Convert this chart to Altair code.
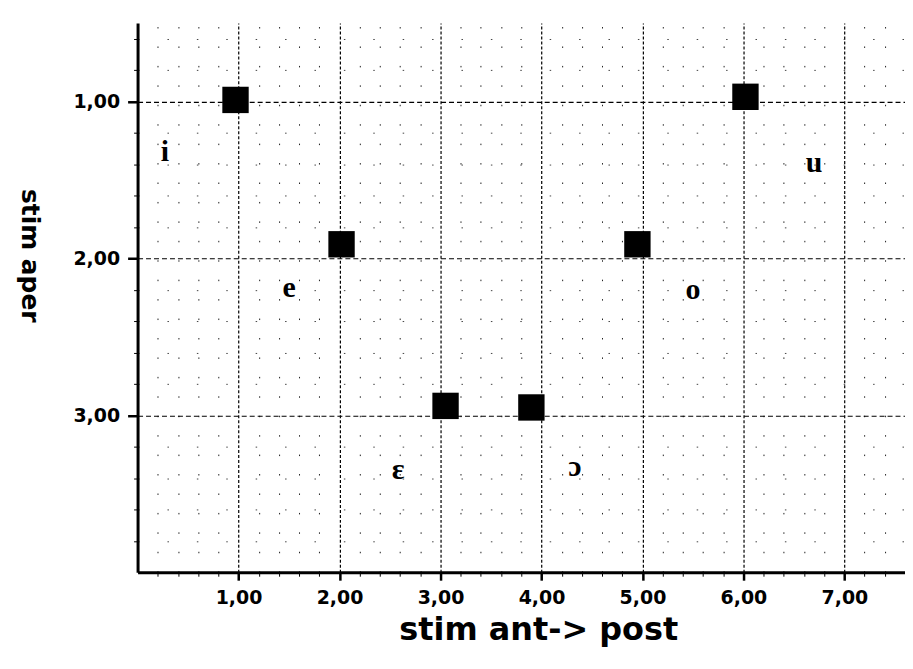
import altair as alt
import pandas as pd

# measured points (squares)
stim_x = [0.97, 2.02, 3.05, 3.90, 4.95, 6.02]
stim_y = [0.99, 1.91, 2.94, 2.95, 1.91, 0.97]
# vowel labels
vowels = ["i", "e", "ɛ", "ɔ", "o", "u"]
label_x = [0.27, 1.50, 2.58, 4.33, 5.50, 6.70]
label_y = [1.32, 2.19, 3.35, 3.33, 2.20, 1.39]
# axis ticks
major_x = [1, 2, 3, 4, 5, 6, 7]
major_y = [1, 2, 3]
minor_x = [round(i * 0.2, 1) for i in range(1, 38) if i % 5 != 0]
minor_y = [round(0.6 + i * 0.2, 1) for i in range(0, 17) if (i + 3) % 5 != 0]

pts = pd.DataFrame({"x": stim_x, "y": stim_y})
lbl = pd.DataFrame({"x": label_x, "y": label_y, "v": vowels})

xs = alt.Scale(domain=[0, 7.6], nice=False, zero=False)
ys = alt.Scale(domain=[0.5, 4.0], nice=False, zero=False, reverse=True)
lab = "replace(format(datum.value, '.2f'), '.', ',')"

minor = alt.Chart(pts).mark_point(opacity=0).encode(
    x=alt.X("x:Q", scale=xs, title=None,
            axis=alt.Axis(orient="bottom", values=minor_x, labels=False, domain=False,
                          grid=True, gridDash=[1.5, 18], gridColor="#222", gridWidth=1,
                          tickSize=4, tickColor="#000", tickWidth=1)),
    y=alt.Y("y:Q", scale=ys, title=None,
            axis=alt.Axis(orient="left", values=minor_y, labels=False, domain=False,
                          grid=True, gridDash=[1.5, 28], gridColor="#444", gridWidth=1,
                          tickSize=4, tickColor="#000", tickWidth=1)),
)

main = alt.Chart(pts).mark_square(size=700, color="black", opacity=1).encode(
    x=alt.X("x:Q", scale=xs, title="stim ant-> post",
            axis=alt.Axis(orient="bottom", values=major_x, labelExpr=lab,
                          grid=True, gridDash=[3, 2], gridColor="#000", gridWidth=1.2,
                          domainColor="#000", domainWidth=3, tickColor="#000",
                          tickWidth=2.5, tickSize=8, labelPadding=8,
                          labelFont="DejaVu Sans", labelFontWeight="bold",
                          labelFontSize=19, labelColor="#000",
                          titleFont="DejaVu Sans", titleFontWeight="bold",
                          titleFontSize=32, titleColor="#000",
                          titleX=402, titleY=58, titleBaseline="middle")),
    y=alt.Y("y:Q", scale=ys, title="stim aper",
            axis=alt.Axis(orient="left", values=major_y, labelExpr=lab,
                          grid=True, gridDash=[5, 3], gridColor="#000", gridWidth=1.2,
                          domainColor="#000", domainWidth=3, tickColor="#000",
                          tickWidth=2.5, tickSize=10, labelPadding=8,
                          labelFont="DejaVu Sans", labelFontWeight="bold",
                          labelFontSize=19, labelColor="#000",
                          titleFont="DejaVu Sans", titleFontWeight="bold",
                          titleFontSize=25, titleColor="#000", titleAngle=90,
                          titleX=-108, titleY=233, titleAlign="center",
                          titleBaseline="middle")),
)

text = alt.Chart(lbl).mark_text(
    font="Liberation Serif", fontWeight="bold", fontSize=30, color="black"
).encode(
    x=alt.X("x:Q", scale=xs, axis=None),
    y=alt.Y("y:Q", scale=ys, axis=None),
    text="v:N",
)

chart = alt.layer(minor, main, text).resolve_axis(x="independent", y="independent").properties(
    width=770, height=551,
    autosize=alt.AutoSizeParams(type="none"),
    padding={"left": 130, "top": 14, "right": 0, "bottom": 90},
    background="white",
).configure_view(stroke=None)

chart.save("out.html", embed_options={"renderer": "svg", "actions": False})
